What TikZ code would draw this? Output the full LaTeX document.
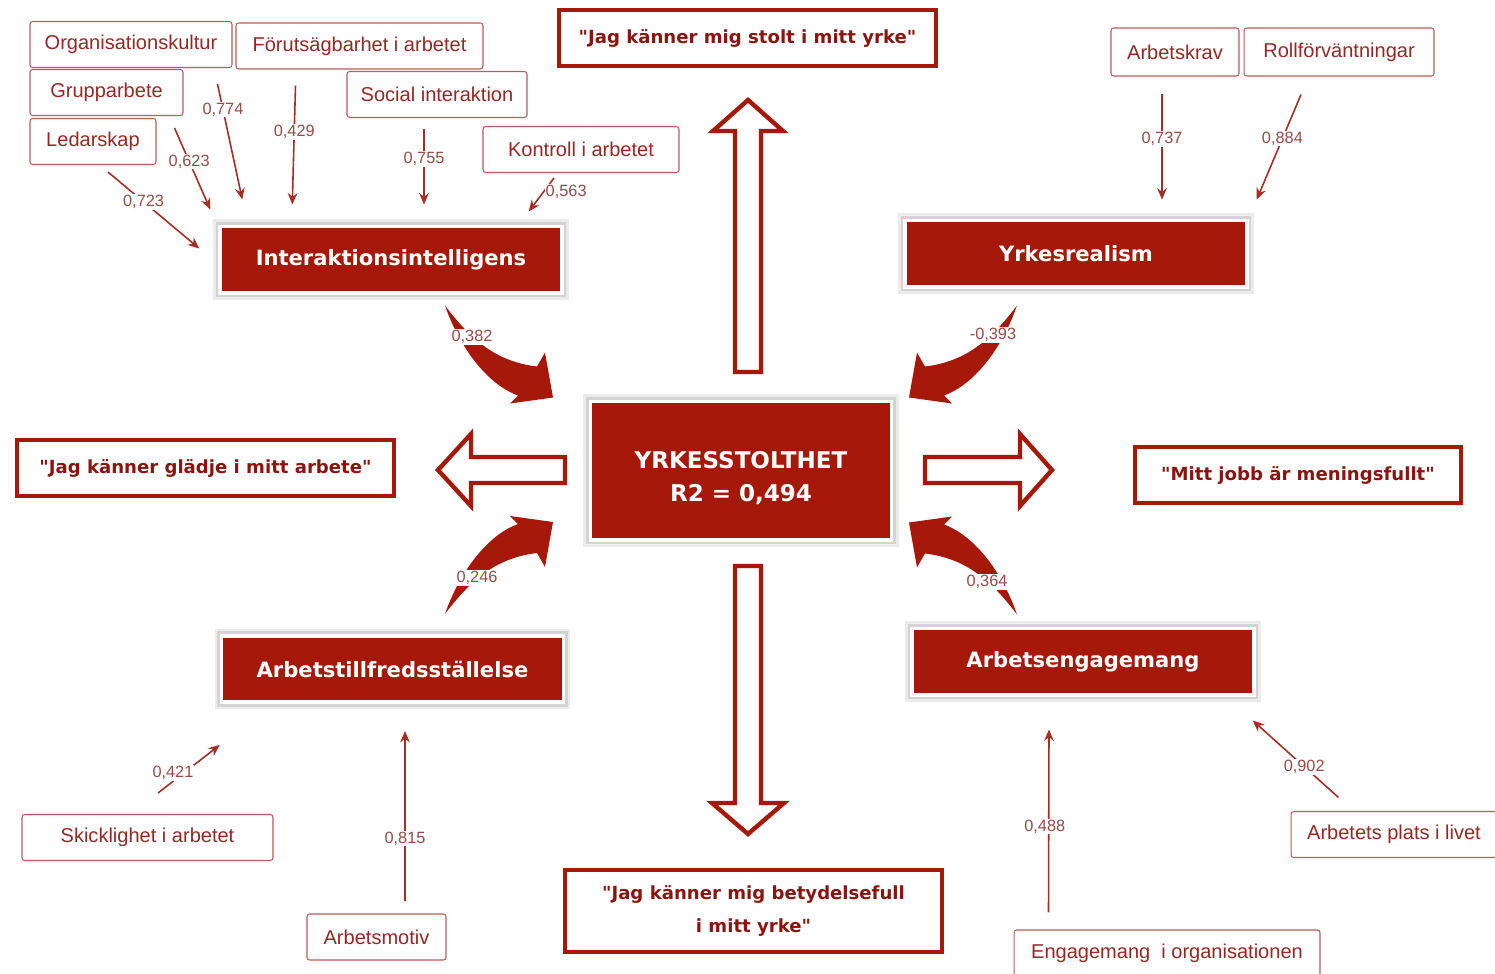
\documentclass[tikz,border=0pt]{standalone}
\usepackage{fontspec}
\setmainfont{Liberation Sans}
\newfontfamily\heavyfont{DejaVu Sans}
\usepackage{tikz}
\usetikzlibrary{arrows.meta,positioning,shadows}

\definecolor{yred}{RGB}{166,24,10}
\definecolor{quotetext}{RGB}{140,20,15}
\definecolor{boxline}{RGB}{190,90,90}
\definecolor{boxtext}{RGB}{150,40,35}
\definecolor{linkred}{RGB}{165,45,35}
\definecolor{numtext}{RGB}{150,75,70}

\begin{document}
\begin{tikzpicture}[x=0.02cm, y=-0.02cm,
    smallbox/.style={draw=boxline, line width=0.6pt, rounded corners=1.5pt, fill=white, text=boxtext,
      inner sep=0pt, minimum height=0.92cm, font=\fontsize{11.4}{13}\selectfont},
    darkbox/.style={fill=yred, draw=white, line width=2pt, text=white, inner sep=0pt,
      minimum width=6.84cm, minimum height=1.33cm, font=\heavyfont\bfseries\fontsize{12}{14}\selectfont,
      preaction={draw=black, draw opacity=0.08, line width=8pt},
      preaction={draw=black, draw opacity=0.1, line width=5pt}},
    quotebox/.style={fill=white, draw=yred, line width=2.3pt, text=quotetext, inner sep=0pt, align=center,
      minimum width=7.54cm, minimum height=1.12cm, font=\heavyfont\bfseries\fontsize{10.3}{18.8}\selectfont,
      drop shadow={shadow xshift=0.6pt, shadow yshift=-0.8pt, opacity=0.25}},
    link/.style={draw=linkred, line width=0.9pt, -{Stealth[length=6.5pt,width=5.5pt]}},
    num/.style={fill=white, inner sep=0.6pt, text=numtext, font=\fontsize{9.3}{11}\selectfont},
    hollow/.style={draw=yred, line width=2.5pt, fill=white, line join=miter},
    swoosh/.pic={
      \fill[yred] (0,0) .. controls (25,33) and (50,56) .. (92,61) -- (100,47) -- (108,92)
        -- (65,98) -- (73,90) .. controls (40,78) and (13,38) .. (0,0) -- cycle;
    },
  ]
  \useasboundingbox (0,0) rectangle (1495,974);
  \fill[white] (0,0) rectangle (1495,974);

  % statements
  \node[quotebox] (stolt) at (747.5,38) {"Jag känner mig stolt i mitt yrke"};
  \node[quotebox] (gladje) at (205.5,468) {"Jag känner glädje i mitt arbete"};
  \node[quotebox, minimum width=6.52cm] (mening) at (1298,475) {"Mitt jobb är meningsfullt"};
  \node[quotebox, minimum height=1.64cm] (betyd) at (753.5,911) {"Jag känner mig betydelsefull\\i mitt yrke"};

  % hollow arrows out of the centre
  \draw[hollow] (735,372) -- (735,131) -- (713,131) -- (748,100) -- (783,131) -- (761,131) -- (761,372) -- cycle;
  \draw[hollow] (735,566) -- (735,803) -- (712,803) -- (748,834) -- (784,803) -- (761,803) -- (761,566) -- cycle;
  \draw[hollow] (565,457) -- (471,457) -- (471,434) -- (438,470) -- (471,506) -- (471,483) -- (565,483) -- cycle;
  \draw[hollow] (925,457) -- (1020,457) -- (1020,434) -- (1052,470) -- (1020,506) -- (1020,483) -- (925,483) -- cycle;

  % factors
  \node[darkbox, minimum width=6.03cm, minimum height=2.77cm,
    label={[text=white, align=center, yshift=-0.16cm, font=\heavyfont\bfseries\fontsize{13.1}{18.8}\selectfont]center:YRKESSTOLTHET\\R2 = 0,494}] (pride) at (741,470.5) {};
  \node[darkbox] (inter) at (391,259.5) {Interaktionsintelligens};
  \node[darkbox] (realism) at (1076,253.5) {Yrkesrealism};
  \node[darkbox] (satisf) at (392.5,669) {Arbetstillfredsställelse};
  \node[darkbox] (engage) at (1083,661.5) {Arbetsengagemang};

  % indicators
  \node[smallbox, minimum width=4.04cm] (org) at (131,44.5) {Organisationskultur};
  \node[smallbox, minimum width=4.94cm] (forut) at (359.5,46) {Förutsägbarhet i arbetet};
  \node[smallbox, minimum width=3.06cm] (grupp) at (106.5,92.5) {Grupparbete};
  \node[smallbox, minimum width=3.6cm] (social) at (437,94.5) {Social interaktion};
  \node[smallbox, minimum width=2.52cm] (lead) at (93,141.5) {Ledarskap};
  \node[smallbox, minimum width=3.92cm] (kontroll) at (581,149.5) {Kontroll i arbetet};
  \node[smallbox, minimum width=2.56cm, minimum height=0.96cm] (krav) at (1175,52) {Arbetskrav};
  \node[smallbox, minimum width=3.8cm, minimum height=0.96cm, right=0.08cm of krav] (roll) {Rollförväntningar};
  \node[smallbox, minimum width=5.02cm] (skick) at (147.5,837.5) {Skicklighet i arbetet};
  \node[smallbox, minimum width=2.78cm] (motiv) at (376.5,937) {Arbetsmotiv};
  \node[smallbox, minimum width=6.12cm] (engorg) at (1167,953) {Engagemang\ \ i organisationen};
  \node[smallbox, minimum width=4.12cm] (plats) at (1394,834.5) {Arbetets plats i livet};

  % loadings
  \draw[link] ([shift={(15,7)}]lead.south) -- ([shift={(-19,24)}]inter.north west) node[num, pos=.39] {0,723};
  \draw[link] ([shift={(-9,12)}]grupp.south east) -- ([shift={(-8,-15)}]inter.north west) node[num, pos=.41] {0,623};
  \draw[link] ([shift={(-15,16)}]org.south east) -- ([shift={(24,-25)}]inter.north west) node[num, pos=.22] {0,774};
  \draw[link] ([shift={(60,16)}]forut.south west) -- ([shift={(74,-20)}]inter.north west) node[num, pos=.39] {0,429};
  \draw[link] ([shift={(-13,11)}]social.south) -- ([shift={(33,-20)}]inter.north) node[num, pos=.4] {0,755};
  \draw[link] ([shift={(-27,5)}]kontroll.south) -- ([shift={(-35,-13)}]inter.north east) node[num, pos=.4, anchor=west] {0,563};
  \draw[link] ([shift={(-13,17)}]krav.south) -- ([shift={(86,-19)}]realism.north) node[num, pos=.43] {0,737};
  \draw[link] ([shift={(-38,18)}]roll.south) -- ([shift={(8,-19)}]realism.north east) node[num, pos=.42] {0,884};
  \draw[link] ([shift={(10.5,-21)}]skick.north) -- ([shift={(0,41)}]satisf.south west) node[num, pos=.42, xshift=-0.22cm] {0,421};
  \draw[link] ([shift={(28.5,-12)}]motiv.north) -- ([shift={(12.5,27)}]satisf.south) node[num, pos=.37] {0,815};
  \draw[link] ([shift={(35,-17)}]engorg.north west) -- ([shift={(-34,33)}]engage.south) node[num, pos=.47, xshift=-0.08cm] {0,488};
  \draw[link] ([shift={(48,-13.5)}]plats.north west) -- ([shift={(-3,24)}]engage.south east) node[num, pos=.4] {0,902};

  % paths into the centre
  \pic at ([shift={(54,11)}]inter.south) {swoosh};
  \pic[xscale=-1] at ([shift={(-59,17)}]realism.south) {swoosh};
  \pic[yscale=-1] at ([shift={(52.5,-20)}]satisf.north) {swoosh};
  \pic[xscale=-1, yscale=-1] at ([shift={(-66,-12)}]engage.north) {swoosh};
  \node[num] at (472,337) {0,382};
  \node[num] at (993,335) {-0,393};
  \node[num] at (477,578) {0,246};
  \node[num] at (987,582) {0,364};
\end{tikzpicture}
\end{document}
